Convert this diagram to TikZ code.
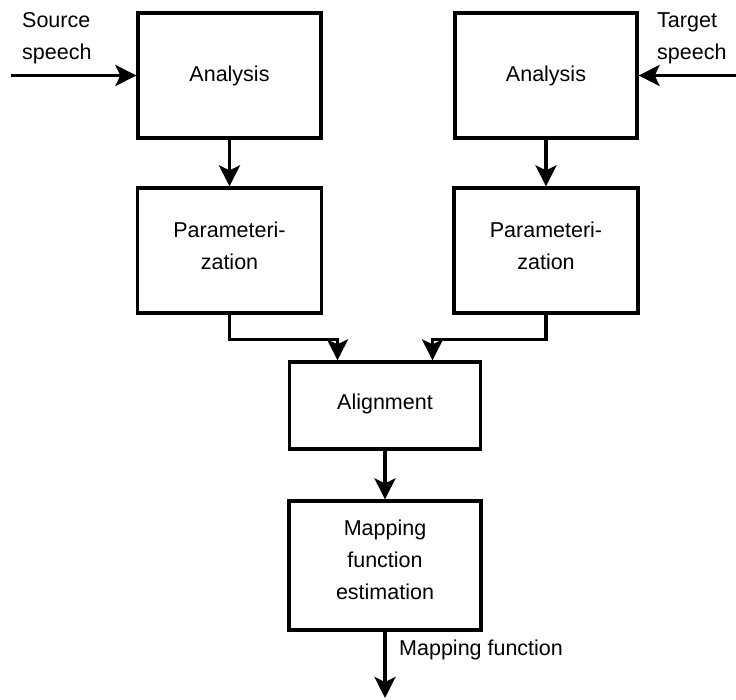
\documentclass[tikz,border=0pt]{standalone}
\usepackage{fontspec}
\setmainfont{Liberation Sans}
\usetikzlibrary{arrows.meta}
\begin{document}
\begin{tikzpicture}[x=1pt,y=-1pt,
  box/.style={draw,line width=3.3pt,rectangle,align=center,inner sep=0pt,
    font=\fontsize{21.5}{32}\selectfont},
  lbl/.style={align=left,inner sep=0pt,font=\fontsize{21.5}{32}\selectfont},
  arr/.style={line width=3.3pt,-{Stealth[length=21pt,width=21pt,inset=5pt]}},
  ]
\useasboundingbox (0,0) rectangle (736,700);
\node[box,minimum width=183pt,minimum height=125pt] (aL) at (229.5,75.5) {Analysis\\[-28pt]};
\node[box,minimum width=182pt,minimum height=125pt] (aR) at (546,75.5) {Analysis\\[-28pt]};
\node[box,minimum width=184pt,minimum height=125pt] (pL) at (229.5,250.5) {Parameteri-\\zation\\[-23pt]};
\node[box,minimum width=184pt,minimum height=125pt] (pR) at (546,250.5) {Parameteri-\\zation\\[-23pt]};
\node[box,minimum width=191pt,minimum height=87pt] (al) at (385,405.5) {Alignment\\[-24pt]};
\node[box,minimum width=192pt,minimum height=129pt] (me) at (385,565.5) {Mapping\\function\\estimation\\[-20pt]};
\node[lbl,anchor=west] (ls) at (22,38) {Source\\speech};
\node[lbl,anchor=west] (lt) at (657,38) {Target\\speech};
\node[lbl,anchor=west] (lm) at (399,650) {Mapping function};
\coordinate (src) at (11,75.5);
\coordinate (tgt) at (736,75.5);
\coordinate (out) at (385,698);
\draw[arr] (src) -- (aL.west);
\draw[arr] (tgt) -- (aR.east);
\draw[arr] (aL.south) -- (pL.north);
\draw[arr] (aR.south) -- (pR.north);
\draw[arr] (pL.south) -- ++(0,25) -| ([xshift=-47.5pt]al.north);
\draw[arr] (pR.south) -- ++(0,25) -| ([xshift=47.5pt]al.north);
\draw[arr] (al.south) -- (me.north);
\draw[arr] (me.south) -- (out);
\end{tikzpicture}
\end{document}
